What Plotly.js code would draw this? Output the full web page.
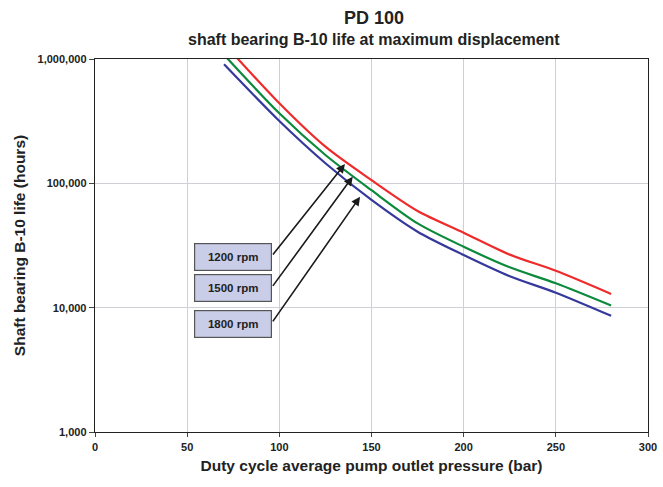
<!DOCTYPE html>
<html>
<head>
<meta charset="utf-8">
<script src="https://cdn.plot.ly/plotly-3.0.1.min.js"></script>
<style>body{margin:0;background:#fff}#chart{width:663px;height:487px}</style>
</head>
<body>
<div id="chart"></div>
<script>
// Duty cycle average pump outlet pressure (bar)
const pressure = [70, 100, 125, 150, 175, 200, 225, 250, 280];
// Shaft bearing B-10 life (hours)
const life1200 = [1330000, 440000, 197000, 106000, 59900, 40100, 26700, 19800, 12900];
const life1500 = [1080000, 366000, 169000, 88000, 47600, 30900, 21100, 15700, 10400];
const life1800 = [906000, 317000, 145000, 73500, 40800, 26500, 17900, 13200, 8600];
const seriesNames = ['1200 rpm', '1500 rpm', '1800 rpm'];
const yTickVals = [1000, 10000, 100000, 1000000];
const yTickText = ['1,000', '10,000', '100,000', '1,000,000'];
const xTickVals = [0, 50, 100, 150, 200, 250, 300];
const titleText = 'PD 100';
const subtitleText = 'shaft bearing B-10 life at maximum displacement';

const colors = ['#ee2b2b', '#0c8a3c', '#35399b'];
const allLife = [life1200, life1500, life1800];

const traces = allLife.map((ys, i) => ({
  x: pressure, y: ys, type: 'scatter', mode: 'lines', name: seriesNames[i],
  line: {color: colors[i], width: 2.2, shape: 'spline', smoothing: 0.8}, hoverinfo: 'skip'
}));

const font = {family: 'Liberation Sans, Arial, sans-serif', color: '#222'};

// label boxes and arrows
const boxY = [4.410, 4.155, 3.872];
const tailY = [4.415, 4.163, 3.878];
const headX = [135.6, 139.8, 143.8];
const headY = [5.155, 5.053, 4.892];
const annotations = [
  {xref: 'paper', yref: 'paper', x: 0.505, y: 1.111, xanchor: 'center', yanchor: 'middle',
   showarrow: false, text: '<b>' + titleText + '</b>', font: Object.assign({}, font, {size: 18})},
  {xref: 'paper', yref: 'paper', x: 0.505, y: 1.0536, xanchor: 'center', yanchor: 'middle',
   showarrow: false, text: '<b>' + subtitleText + '</b>', font: Object.assign({}, font, {size: 16})}
];
seriesNames.forEach((n, i) => {
  annotations.push({
    x: headX[i], y: headY[i], xref: 'x', yref: 'y',
    ax: 95.9, ay: tailY[i], axref: 'x', ayref: 'y',
    showarrow: true, arrowhead: 2, arrowsize: 1.1, arrowwidth: 1.6, arrowcolor: '#1a1a1a',
    text: ''
  });
  annotations.push({
    x: 74.9, y: boxY[i], xref: 'x', yref: 'y', showarrow: false,
    text: '<b>' + n + '</b>', font: Object.assign({}, font, {size: 11.5}),
    bgcolor: '#c9cde8', bordercolor: '#555', borderwidth: 1.2,
    width: 74, height: 24, borderpad: 1, align: 'center'
  });
});

const layout = {
  width: 663, height: 487,
  margin: {l: 95, r: 15, t: 59, b: 55},
  paper_bgcolor: '#fff', plot_bgcolor: '#fff',
  showlegend: false,
  font: font,
  xaxis: {
    range: [0, 300], tickvals: xTickVals, ticks: 'outside', ticklen: 4,
    tickfont: Object.assign({}, font, {size: 11, weight: 'bold'}),
    showgrid: true, gridcolor: '#cfd0d6', gridwidth: 1,
    showline: true, linecolor: '#222', linewidth: 1.3, mirror: true,
    zeroline: false,
    title: {text: '<b>Duty cycle average pump outlet pressure (bar)</b>', font: Object.assign({}, font, {size: 15.5}), standoff: 8}
  },
  yaxis: {
    type: 'log', range: [3, 6], tickvals: yTickVals, ticktext: yTickText,
    ticks: 'outside', ticklen: 5,
    tickfont: Object.assign({}, font, {size: 11, weight: 'bold'}),
    showgrid: true, gridcolor: '#cfd0d6', gridwidth: 1,
    showline: true, linecolor: '#222', linewidth: 1.3, mirror: true,
    zeroline: false,
    title: {text: '<b>Shaft bearing B-10 life (hours)</b>', font: Object.assign({}, font, {size: 15.5}), standoff: 8}
  },
  annotations: annotations
};

Plotly.newPlot('chart', traces, layout, {displayModeBar: false, staticPlot: true});
</script>
</body>
</html>
